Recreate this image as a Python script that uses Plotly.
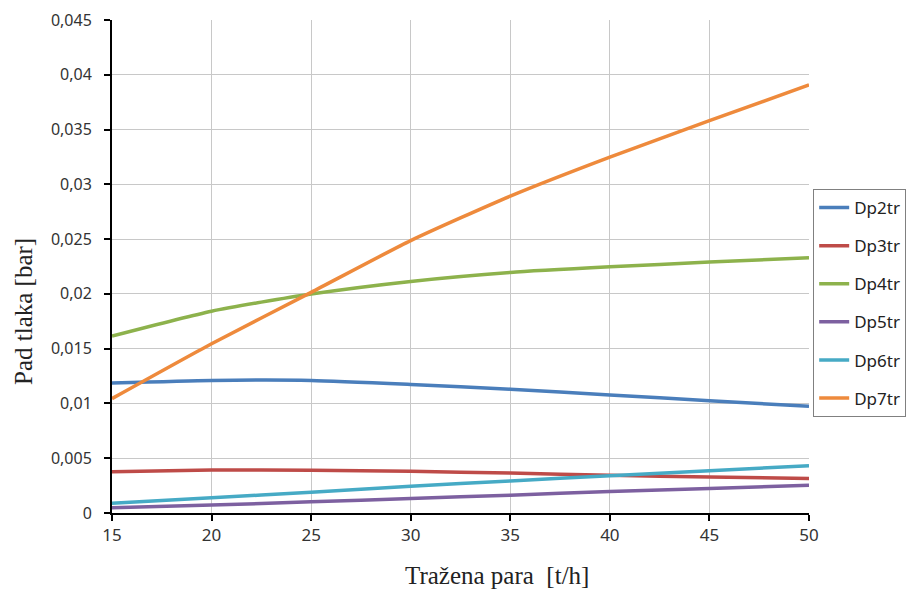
import plotly.graph_objects as go

x_vals = [15, 20, 25, 30, 35, 40, 45, 50]

dp2tr = [0.01186, 0.01210, 0.01210, 0.01174, 0.01130, 0.01078, 0.01024, 0.00975]
dp3tr = [0.00377, 0.00392, 0.00390, 0.00380, 0.00365, 0.00344, 0.00329, 0.00314]
dp4tr = [0.01615, 0.01842, 0.01999, 0.02114, 0.02196, 0.02247, 0.02290, 0.02330]
dp5tr = [0.00048, 0.00072, 0.00102, 0.00133, 0.00163, 0.00196, 0.00223, 0.00254]
dp6tr = [0.00090, 0.00139, 0.00190, 0.00244, 0.00293, 0.00341, 0.00386, 0.00432]
dp7tr = [0.01044, 0.01545, 0.02014, 0.02486, 0.02892, 0.03248, 0.03581, 0.03908]

series_names = ["Dp2tr", "Dp3tr", "Dp4tr", "Dp5tr", "Dp6tr", "Dp7tr"]
series_values = [dp2tr, dp3tr, dp4tr, dp5tr, dp6tr, dp7tr]
colors = ["#4A7EBB", "#BE4B48", "#8DB24C", "#7D60A0", "#46AAC5", "#EE8A3C"]

x_title = "Tražena para  [t/h]"
y_title = "Pad tlaka [bar]"

fig = go.Figure()
for name, vals, col in zip(series_names, series_values, colors):
    fig.add_trace(go.Scatter(
        x=x_vals, y=vals, name=name, mode="lines",
        line=dict(color=col, width=3.5, shape="spline", smoothing=0.6),
        legendgroup=name,
    ))

title_font = dict(family="Liberation Serif, Times New Roman, serif", size=25, color="#222")
xtick_font = dict(family="Noto Sans, Open Sans, sans-serif", size=17, color="#333")
ytick_font = dict(family="Noto Sans, Open Sans, sans-serif", size=16, color="#333")

PH = 493  # plot height in px (for placing annotations)

fig.update_layout(
    width=915, height=582,
    margin=dict(l=104, r=114, t=12, b=77, autoexpand=False),
    paper_bgcolor="white", plot_bgcolor="white",
    separators=",.",
    showlegend=True,
    legend=dict(
        x=1.006, y=(513 - 189) / PH, xanchor="left", yanchor="top",
        bordercolor="#808080", borderwidth=1,
        font=dict(family="Noto Sans, Open Sans, sans-serif", size=17, color="#222"),
        tracegroupgap=13,
        bgcolor="white",
    ),
    annotations=[
        dict(text=x_title, xref="paper", yref="paper", x=(497 - 112) / 697, y=-(575 - 513) / PH,
             xanchor="center", yanchor="middle", showarrow=False, font=title_font),
        dict(text=y_title, xref="paper", yref="paper", x=-(112 - 23) / 697, y=(513 - 312) / PH,
             xanchor="center", yanchor="middle", showarrow=False, font=title_font, textangle=-90),
    ],
)

fig.update_xaxes(
    range=[15, 50], dtick=5, tick0=15,
    showline=True, linecolor="black", linewidth=2,
    ticks="outside", ticklen=6, tickcolor="black", tickwidth=1.5,
    showgrid=True, gridcolor="#C8C8C8", gridwidth=1,
    zeroline=False, automargin=False,
    tickfont=xtick_font, ticklabeloverflow="allow",
)
fig.update_yaxes(
    range=[0, 0.045], dtick=0.005, tick0=0,
    showline=True, linecolor="black", linewidth=2,
    ticks="outside", ticklen=6, tickcolor="black", tickwidth=1.5,
    showgrid=True, gridcolor="#C8C8C8", gridwidth=1,
    zeroline=False, automargin=False,
    tickfont=ytick_font, ticklabeloverflow="allow", ticklabelstandoff=9,
)

fig.write_html("out.html")
